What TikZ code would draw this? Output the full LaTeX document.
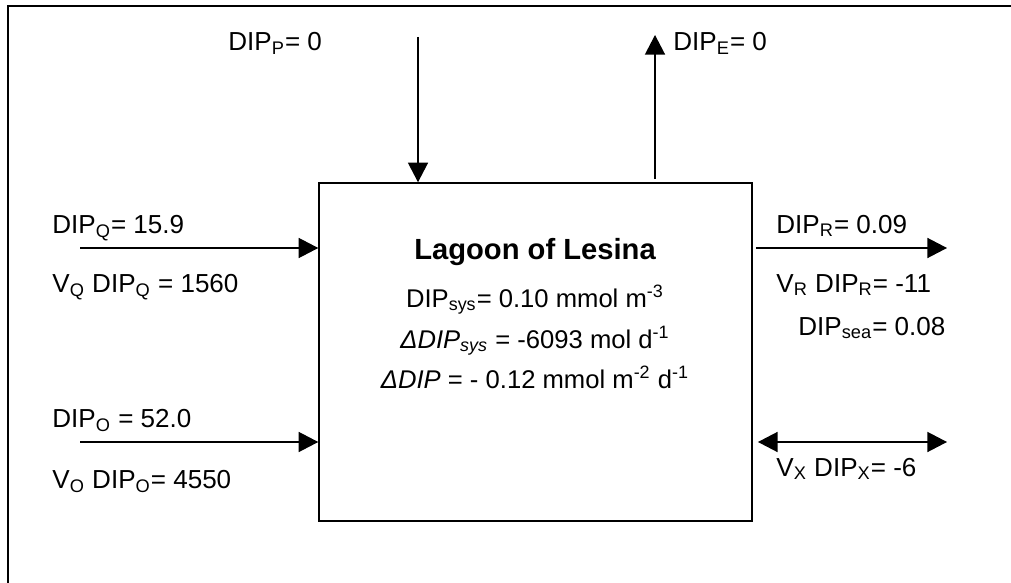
\documentclass[tikz,border=0pt]{standalone}
\usepackage{fontspec}
\setmainfont{Liberation Sans}
\usepackage{tikz}
\usetikzlibrary{arrows.meta, calc}
\tikzset{
    frame/.style={draw=black, line width=1pt, line join=miter},
    lagoonbox/.style={draw=black, line width=0.75pt, minimum width=207.8pt, minimum height=162.2pt, inner sep=0pt},
    flow/.style={draw=black, line width=0.7pt, -{Triangle[length=9.4pt, width=9.6pt]}},
    exch/.style={draw=black, line width=0.7pt, {Triangle[length=9.4pt, width=9.6pt]}-{Triangle[length=9.4pt, width=9.6pt]}},
    lbl/.style={anchor=base west, inner sep=0pt, font=\fontsize{12.5}{15}\selectfont},
    inbox/.style={anchor=base, inner sep=0pt, font=\fontsize{12.3}{15}\selectfont}
}

\begin{document}
\begin{tikzpicture}[x=0.48pt, y=-0.48pt]
    \useasboundingbox (0,0) rectangle (1011,583);
    \draw[frame] (1011,6) -- (8,6) -- (8,583);

    % the lagoon
    \node[lagoonbox] (lagoon) at (535.5,352) {};
    \node[inbox, font=\fontsize{14}{17}\selectfont\bfseries] (title) at (535,259) {Lagoon of Lesina};
    \node[inbox] (dipsys) at (535,307) {DIP\textsubscript{sys}= 0.10 mmol m\textsuperscript{-3}};
    \node[inbox] (ddipsys) at (535,348) {\textit{ΔDIP\textsubscript{sys}} = -6093 mol d\textsuperscript{-1}};
    \node[inbox] (ddip) at (535,388) {\textit{ΔDIP} = - 0.12 mmol m\textsuperscript{-2} d\textsuperscript{-1}};

    % fluxes
    \coordinate (pin) at (418,37);
    \coordinate (eout) at (655,35);
    \coordinate (qin) at (80,248);
    \coordinate (oin) at (80,442);
    \coordinate (rout) at (947,248);
    \coordinate (xout) at (947,442);
    \draw[flow] (pin) -- (pin |- lagoon.north);
    \draw[flow] ([yshift=1.5pt]eout |- lagoon.north) -- (eout);
    \draw[flow] (qin) -- (qin -| lagoon.west);
    \draw[flow] (oin) -- (oin -| lagoon.west);
    \draw[flow] ([xshift=1.5pt]rout -| lagoon.east) -- (rout);
    \draw[exch] ([xshift=2.5pt]xout -| lagoon.east) -- (xout);

    % labels
    \node[lbl] (dipp) at (228,51) {DIP\textsubscript{P}= 0};
    \node[lbl] (dipe) at (673,51) {DIP\textsubscript{E}= 0};
    \node[lbl] (dipq) at (52,233) {DIP\textsubscript{Q}= 15.9};
    \node[lbl] (vqdipq) at (52,292) {V\textsubscript{Q} DIP\textsubscript{Q} = 1560};
    \node[lbl] (dipo) at (52,427) {DIP\textsubscript{O} = 52.0};
    \node[lbl] (vodipo) at (52,488) {V\textsubscript{O} DIP\textsubscript{O}= 4550};
    \node[lbl] (dipr) at (776,233) {DIP\textsubscript{R}= 0.09};
    \node[lbl] (vrdipr) at (776,292) {V\textsubscript{R} DIP\textsubscript{R}= -11};
    \node[lbl] (dipsea) at (798,335) {DIP\textsubscript{sea}= 0.08};
    \node[lbl] (vxdipx) at (776,476) {V\textsubscript{X} DIP\textsubscript{X}= -6};
\end{tikzpicture}
\end{document}
